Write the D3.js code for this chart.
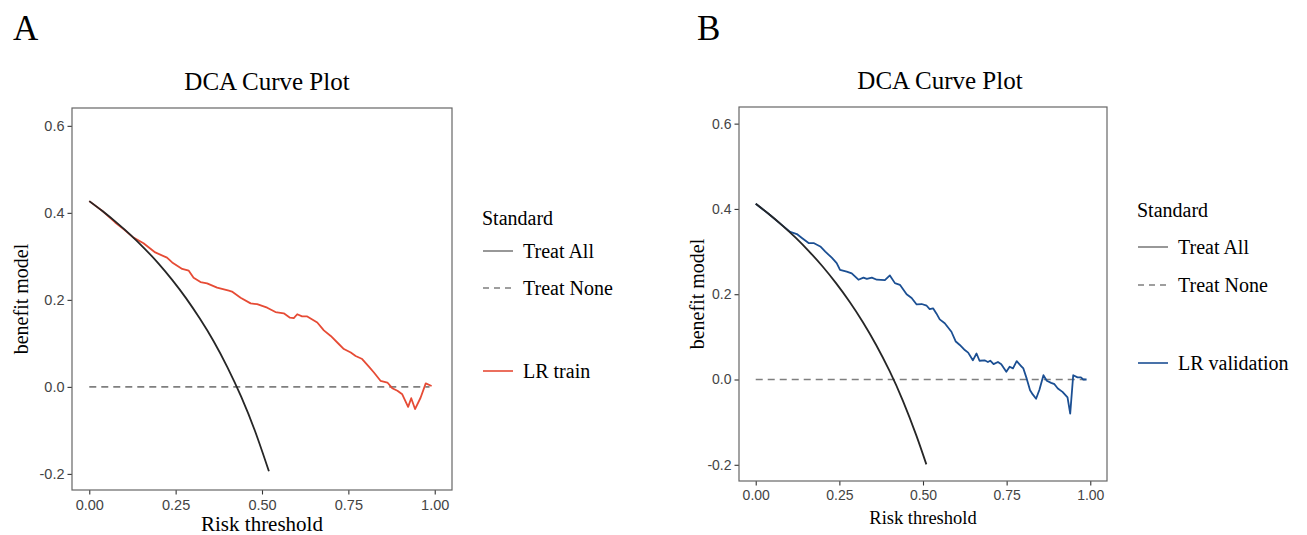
<!DOCTYPE html>
<html>
<head>
  <meta charset="utf-8">
  <style>
    body {
      margin: 0;
      background: white;
    }
    .tick text {
      font-family: "Liberation Sans", Arial, sans-serif;
      fill: #444;
    }
    .tick line {
      stroke: #333;
    }
  </style>
</head>
<body>
  <script src="https://d3js.org/d3.v7.min.js"></script>
  <script>
    // values
    var xTicks = [0, 0.25, 0.5, 0.75, 1];
    var yTicks = [-0.2, 0, 0.2, 0.4, 0.6];

    var treatAllT_A = [0, 0.04, 0.08, 0.12, 0.16, 0.2, 0.24, 0.28, 0.32, 0.36, 0.4, 0.44, 0.48, 0.52];
    var treatAllV_A = [0.427, 0.403, 0.377, 0.349, 0.318, 0.284, 0.246, 0.204, 0.157, 0.105, 0.045, -0.023, -0.102, -0.194];
    var treatAllT_B = [0, 0.04, 0.08, 0.12, 0.16, 0.2, 0.24, 0.28, 0.32, 0.36, 0.4, 0.44, 0.48, 0.51];
    var treatAllV_B = [0.412, 0.3875, 0.361, 0.332, 0.300, 0.265, 0.226, 0.183, 0.135, 0.081, 0.020, -0.050, -0.131, -0.199];

    var treatNoneT = [0, 0.985];
    var treatNoneV = [0, 0];

    var lrTrainT = [0, 0.04, 0.075, 0.1, 0.128, 0.157, 0.191, 0.225, 0.24, 0.269, 0.288, 0.302, 0.322, 0.341,
      0.37, 0.404, 0.413, 0.438, 0.467, 0.486, 0.515, 0.539, 0.563, 0.581, 0.592, 0.602, 0.616, 0.631,
      0.66, 0.679, 0.699, 0.723, 0.737, 0.757, 0.771, 0.79, 0.81, 0.824, 0.843, 0.863, 0.877, 0.892,
      0.906, 0.923, 0.932, 0.943, 0.959, 0.974, 0.991];
    var lrTrainV = [0.427, 0.403, 0.378, 0.362, 0.343, 0.33, 0.309, 0.297, 0.286, 0.271, 0.267, 0.251, 0.241, 0.238,
      0.228, 0.221, 0.219, 0.205, 0.192, 0.19, 0.182, 0.172, 0.169, 0.159, 0.158, 0.167, 0.162, 0.162,
      0.148, 0.13, 0.117, 0.098, 0.087, 0.079, 0.071, 0.064, 0.046, 0.033, 0.014, 0.01, -0.003, -0.009,
      -0.017, -0.046, -0.026, -0.051, -0.025, 0.008, 0.002];

    var lrValT = [0, 0.04, 0.083, 0.103, 0.123, 0.138, 0.158, 0.173, 0.193, 0.208, 0.228, 0.242, 0.252, 0.272,
      0.287, 0.307, 0.322, 0.332, 0.347, 0.362, 0.386, 0.401, 0.416, 0.431, 0.451, 0.466, 0.481, 0.496,
      0.511, 0.52, 0.53, 0.54, 0.55, 0.565, 0.585, 0.598, 0.61, 0.625, 0.635, 0.649, 0.66, 0.669, 0.684,
      0.694, 0.701, 0.711, 0.724, 0.734, 0.749, 0.759, 0.769, 0.78, 0.794, 0.8, 0.81, 0.82, 0.828, 0.838,
      0.848, 0.86, 0.87, 0.883, 0.893, 0.903, 0.917, 0.932, 0.94, 0.949, 0.962, 0.972, 0.979, 0.989];
    var lrValV = [0.412, 0.3875, 0.359, 0.346, 0.341, 0.332, 0.32, 0.32, 0.312, 0.3, 0.285, 0.273, 0.257, 0.253,
      0.249, 0.234, 0.239, 0.236, 0.239, 0.234, 0.233, 0.244, 0.226, 0.222, 0.2, 0.191, 0.176, 0.177,
      0.173, 0.165, 0.167, 0.155, 0.141, 0.132, 0.112, 0.089, 0.081, 0.069, 0.063, 0.045, 0.061, 0.044, 0.045,
      0.041, 0.044, 0.036, 0.041, 0.036, 0.018, 0.03, 0.026, 0.043, 0.031, 0.026, 0.002, -0.025, -0.035, -0.045,
      -0.024, 0.01, -0.003, -0.008, -0.011, -0.021, -0.029, -0.042, -0.08, 0.01, 0.005, 0.005, 0, 0];

    var W = 1307, H = 535;
    var svg = d3.select("body").append("svg").attr("width", W).attr("height", H);

    var serif = "'Liberation Serif', 'Times New Roman', serif";

    function zip(t, v) { return t.map((d, i) => [d, v[i]]); }

    function panel(p) {
      var x = d3.scaleLinear().domain([-0.05, 1.05]).range([p.left, p.right]);
      var y = d3.scaleLinear().domain(p.yDomain).range([p.bottom, p.top]);

      // panel letter
      svg.append("text").attr("x", p.letterX).attr("y", 40)
        .style("font-family", serif).style("font-size", "35px").text(p.letter);

      // title
      svg.append("text").attr("x", p.titleX).attr("y", p.titleY).attr("text-anchor", "middle")
        .style("font-family", serif).style("font-size", "25px").text("DCA Curve Plot");

      // axes (plain hyphen for negatives, as in the original)
      svg.append("g").attr("transform", "translate(" + p.left + ",0)")
        .attr("font-size", p.tickFont)
        .call(d3.axisLeft(y).tickValues(yTicks).tickSize(4.5).tickPadding(3).tickFormat(d => d.toFixed(1)))
        .call(g => g.select(".domain").remove())
        .call(g => g.selectAll("text").style("font-size", p.tickFont + "px"));
      svg.append("g").attr("transform", "translate(0," + p.bottom + ")")
        .attr("font-size", p.tickFont)
        .call(d3.axisBottom(x).tickValues(xTicks).tickSize(4.5).tickPadding(5).tickFormat(d => d.toFixed(2)))
        .call(g => g.select(".domain").remove())
        .call(g => g.selectAll("text").style("font-size", p.tickFont + "px"));
      svg.selectAll(".tick line").attr("stroke-width", 1.1);

      // axis titles
      svg.append("text").attr("x", (x(0) + x(1)) / 2).attr("y", p.xTitleY).attr("text-anchor", "middle")
        .style("font-family", serif).style("font-size", p.xTitleFont + "px").text("Risk threshold");
      svg.append("text")
        .attr("transform", "translate(" + p.yTitleX + "," + ((p.top + p.bottom) / 2) + ") rotate(-90)")
        .attr("text-anchor", "middle").attr("dy", "0.35em")
        .style("font-family", serif).style("font-size", "20px").text("benefit model");

      var line = d3.line().x(d => x(d[0])).y(d => y(d[1]));
      var smooth = d3.line().x(d => x(d[0])).y(d => y(d[1])).curve(d3.curveNatural);

      svg.append("path").datum(zip(treatNoneT, treatNoneV)).attr("d", line)
        .attr("fill", "none").attr("stroke", "#7f7f7f").attr("stroke-width", 1.6)
        .attr("stroke-dasharray", "7,5");
      svg.append("path").datum(zip(p.modelT, p.modelV)).attr("d", line)
        .attr("fill", "none").attr("stroke", p.color).attr("stroke-width", 1.8)
        .attr("stroke-linejoin", "round");
      svg.append("path").datum(zip(p.allT, p.allV)).attr("d", smooth)
        .attr("fill", "none").attr("stroke", "#262626").attr("stroke-width", 1.8);

      // border
      svg.append("rect").attr("x", p.left).attr("y", p.top)
        .attr("width", p.right - p.left).attr("height", p.bottom - p.top)
        .attr("fill", "none").attr("stroke", "#666").attr("stroke-width", 1.2);

      // legend
      var lg = svg.append("g").style("font-family", serif).style("font-size", "20px");
      lg.append("text").attr("x", p.legX - 1).attr("y", p.legY[0]).attr("dy", "0.35em").text("Standard");
      var items = [
        {label: "Treat All", color: "#7f7f7f", dash: null, y: p.legY[1]},
        {label: "Treat None", color: "#7f7f7f", dash: "6,5", y: p.legY[2]},
        {label: p.modelLabel, color: p.color, dash: null, y: p.legY[3]}
      ];
      items.forEach(d => {
        lg.append("line").attr("x1", p.legX).attr("x2", p.legX + 30).attr("y1", d.y).attr("y2", d.y)
          .attr("stroke", d.color).attr("stroke-width", 1.6).attr("stroke-dasharray", d.dash);
        lg.append("text").attr("x", p.legX + 40).attr("y", d.y).attr("dy", "0.35em").text(d.label);
      });
    }

    panel({
      letter: "A", letterX: 13, titleX: 267, titleY: 90,
      left: 72, right: 452, top: 108, bottom: 490, yDomain: [-0.237, 0.641],
      tickFont: 14.5, xTitleY: 531, xTitleFont: 21, yTitleX: 21,
      allT: treatAllT_A, allV: treatAllV_A, modelT: lrTrainT, modelV: lrTrainV,
      color: "#E64B35", modelLabel: "LR train",
      legX: 483, legY: [218, 251, 288, 371]
    });

    panel({
      letter: "B", letterX: 697, titleX: 940, titleY: 89,
      left: 739, right: 1107, top: 107, bottom: 481, yDomain: [-0.238, 0.639],
      tickFont: 14, xTitleY: 524, xTitleFont: 18.5, yTitleX: 697,
      allT: treatAllT_B, allV: treatAllV_B, modelT: lrValT, modelV: lrValV,
      color: "#1B4F93", modelLabel: "LR validation",
      legX: 1138, legY: [210, 247, 285, 363]
    });
  </script>
</body>
</html>
